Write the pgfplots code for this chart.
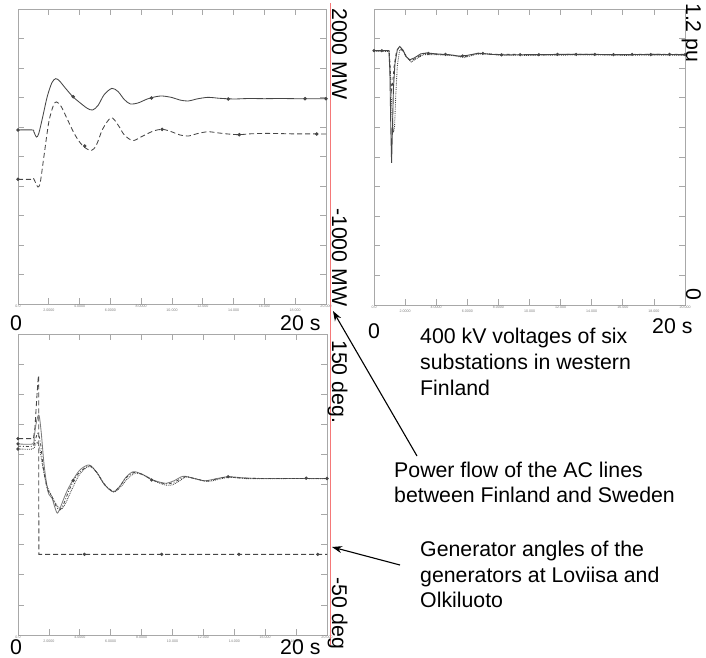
\documentclass[border=0pt]{standalone}
\usepackage{pgfplots}
\pgfplotsset{compat=1.18}
\usepackage{fontspec}
\setmainfont{Liberation Sans}
\usetikzlibrary{arrows.meta}
\definecolor{frame}{RGB}{168,168,168}
\definecolor{curve}{RGB}{70,70,70}
\definecolor{redline}{RGB}{245,120,120}
\newcommand{\bigf}{\fontsize{21.3}{25.5}\selectfont}
\pgfplotsset{
  panel/.style={
    scale only axis,
    anchor=south west,
    xmin=0, xmax=20,
    axis line style={frame, line width=0.9pt},
    tick style={frame, line width=0.8pt},
    major tick length=6pt,
    tick align=inside,
    xtick={0,4,8,12,16,20},
    xticklabels={0.0,4.0000,8.0000,12.000,16.000,20.000},
    extra x ticks={2,6,10,14,18},
    extra x tick labels={2.0000,6.0000,10.000,14.000,18.000},
    extra x tick style={xticklabel style={yshift=-4.5pt}},
    xticklabel style={font=\fontsize{3.6}{4}\selectfont, text=gray, inner sep=0.6pt},
    yticklabels={},
    every axis plot/.append style={line width=0.85pt},
  },
  longdash/.style={dash pattern=on 5pt off 3pt},
}
\begin{document}
\begin{tikzpicture}
\useasboundingbox (0pt,0pt) rectangle (706pt,-657pt);

% ---------------- Top left: power flow -----------------
\begin{axis}[panel, at={(18pt,-304pt)}, width=308pt, height=295pt,
  ymin=-1000, ymax=2000, ytick={-1000,-700,...,2000}]
\addplot[curve, smooth, tension=0.5] coordinates {
(0,770)(0.95,770)(1.02,755)(1.2,698)(1.35,735)(1.6,900)(1.9,1110)(2.2,1250)(2.45,1292)(2.7,1268)(3.0,1210)(3.55,1110)(4.0,1050)(4.5,990)(4.85,973)(5.2,1020)(5.6,1130)(6.1,1193)(6.5,1160)(6.9,1080)(7.3,1034)(7.8,1045)(8.4,1085)(9.0,1110)(9.4,1115)(10.0,1100)(10.5,1075)(11.05,1064)(11.6,1085)(12.35,1102)(13.0,1093)(14,1085)(15,1090)(16,1088)(17,1090)(18,1088)(19,1088)(20,1088)};
\addplot[curve, longdash, smooth, tension=0.5] coordinates {
(0,268)(0.9,268)(1.0,280)(1.15,230)(1.3,190)(1.45,240)(1.7,520)(2.0,850)(2.3,1020)(2.5,1055)(2.8,1010)(3.2,880)(3.7,720)(4.2,610)(4.75,560)(5.1,620)(5.5,780)(6.05,895)(6.5,820)(6.9,720)(7.45,662)(8.0,700)(8.8,760)(9.4,776)(10.0,750)(10.5,720)(11.05,708)(11.7,735)(12.35,752)(13.0,740)(13.7,728)(14.4,722)(15,730)(16,735)(17,733)(18,730)(19,730)(20,729)};
\addplot[only marks, mark=*, mark size=1.3pt, curve] coordinates {
(0,770)(3.58,1108)(8.67,1095)(13.65,1085)(18.64,1088)(20,1088)
(0,268)(4.33,607)(9.36,776)(14.37,722)(19.4,729)};
\end{axis}

% ---------------- Top right: voltages -----------------
\begin{axis}[panel, at={(374pt,-305pt)}, width=311pt, height=296pt,
  ymin=0, ymax=1.2, ytick={0,0.12,0.24,0.36,0.48,0.6,0.72,0.84,0.96,1.08,1.2}]
\addplot[curve, line width=0.9pt] coordinates {
(0,1.031)(0.96,1.031)(1.02,0.95)(1.08,0.72)(1.13,0.576)(1.18,0.70)(1.25,0.88)(1.35,0.98)(1.5,1.035)(1.65,1.048)(1.85,1.035)(2.05,1.008)(2.3,0.994)(2.6,1.002)(3.0,1.018)(3.4,1.022)(4.0,1.018)(4.8,1.015)(5.5,1.009)(6.0,1.012)(6.7,1.021)(7.5,1.016)(8.5,1.014)(10,1.015)(12,1.016)(14,1.016)(16,1.015)(18,1.016)(20,1.015)};
\addplot[curve, densely dotted] coordinates {
(0,1.028)(0.97,1.028)(1.05,0.93)(1.15,0.78)(1.25,0.70)(1.32,0.72)(1.4,0.85)(1.5,0.97)(1.65,1.035)(1.9,1.03)(2.15,1.0)(2.4,0.985)(2.7,0.998)(3.2,1.015)(4,1.015)(5,1.012)(5.8,1.003)(6.5,1.015)(7.2,1.02)(8,1.013)(10,1.012)(12,1.013)(14,1.014)(16,1.012)(18,1.013)(20,1.012)};
\addplot[curve, dashed] coordinates {
(0,1.032)(0.98,1.032)(1.05,0.95)(1.12,0.87)(1.2,0.9)(1.3,0.97)(1.45,1.03)(1.62,1.045)(1.85,1.03)(2.1,1.005)(2.35,0.99)(2.7,1.0)(3.2,1.02)(4,1.017)(5,1.013)(5.8,1.006)(6.7,1.02)(7.5,1.017)(9,1.016)(11,1.014)(13,1.017)(15,1.015)(17,1.016)(20,1.016)};
\addplot[only marks, mark=*, mark size=1.1pt, curve] coordinates {
(0,1.031)(0.5,1.031)(3.5,1.02)(4.6,1.016)(5.7,1.01)(7.0,1.02)(8.2,1.014)(9.4,1.015)(10.6,1.015)(11.8,1.016)(13.0,1.016)(14.2,1.016)(15.4,1.015)(16.6,1.016)(17.8,1.015)(19.0,1.016)(20,1.015)};
\end{axis}

% ---------------- Bottom left: generator angles -----------------
\begin{axis}[panel, at={(18pt,-635pt)}, width=309pt, height=301pt,
  ymin=-50, ymax=150, ytick={-50,-30,...,150}]
\addplot[curve, longdash] coordinates {
(0,80.5)(1.0,80.5)(1.1,88)(1.2,105)(1.3,120)(1.34,122.5)(1.35,3.6)(20,3.6)};
\addplot[curve!70, smooth, tension=0.5] coordinates {
(0,77)(0.95,77)(1.05,82)(1.2,92)(1.36,96)(1.5,85)(1.7,62)(1.95,45)(2.2,41)(2.38,35)(2.55,31)(2.75,35)(3.1,44)(3.5,52)(4.0,59.6)(4.6,63)(5.1,58)(5.6,50)(6.16,45.2)(6.6,49)(7.0,55)(7.46,58.5)(8.0,57)(8.6,53.5)(9.2,51.5)(9.6,50.8)(10.1,52.5)(10.7,55.5)(11.4,54)(12.1,52.5)(12.9,54)(13.6,55.2)(14.5,54.5)(15.5,54)(17,54)(18.5,54)(20,54)};
\addplot[curve, densely dotted, smooth, tension=0.5] coordinates {
(0,73.6)(0.95,73.6)(1.1,76)(1.25,78)(1.4,74)(1.6,62)(1.85,50)(2.1,44)(2.4,38)(2.65,34.5)(2.85,34)(3.1,38)(3.5,47)(4.0,57)(4.6,62)(5.1,58)(5.6,50)(6.2,45)(6.7,49)(7.1,54)(7.6,57.5)(8.2,56)(8.8,52.5)(9.4,50)(9.9,49.5)(10.4,52)(10.9,55)(11.6,53.5)(12.3,52)(13.0,53.5)(13.7,54.8)(14.6,54)(16,53.8)(18,54)(20,53.8)};
\addplot[curve, dash dot, smooth, tension=0.5] coordinates {
(0,75.5)(0.95,75.5)(1.1,79)(1.28,84)(1.45,78)(1.65,60)(1.9,47)(2.15,43)(2.45,36)(2.7,33)(2.95,37)(3.3,46)(3.8,56)(4.6,62.5)(5.1,58)(5.6,50)(6.18,45.5)(6.6,49)(7.0,54.5)(7.5,58)(8.1,56.5)(8.7,53)(9.3,51)(9.8,50.5)(10.3,52.5)(10.8,55.2)(11.5,53.8)(12.2,52.3)(12.9,53.8)(13.6,55)(14.5,54.3)(16,54)(18,54)(20,54)};
\addplot[only marks, mark=*, mark size=1.2pt, curve] coordinates {
(0,80.5)(0,77)(0,73.6)(3.57,52.6)(8.65,53)(13.6,55.2)(18.65,54.2)(20,54)
(4.3,3.6)(9.3,3.6)(14.3,3.6)(19.4,3.6)};
\end{axis}

% ---------------- red line and labels -----------------
\draw[redline, line width=0.6pt] (330pt,-3pt) -- (330pt,-645pt);

\begin{scope}[every node/.style={inner sep=0pt, font=\bigf}]
\node[anchor=base west] at (10pt,-330pt) {0};
\node[anchor=base west] at (280pt,-330pt) {20 s};
\node[anchor=base west] at (368pt,-338pt) {0};
\node[anchor=base west] at (652pt,-333pt) {20 s};
\node[anchor=base west] at (10pt,-654pt) {0};
\node[anchor=base west] at (280pt,-654pt) {20 s};

\node[anchor=base west, rotate=-90] at (332pt,-8pt) {2000 MW};
\node[anchor=base west, rotate=-90] at (332pt,-208pt) {-1000 MW};
\node[anchor=base west, rotate=-90] at (686pt,-3pt) {1.2 pu};
\node[anchor=base west, rotate=-90] at (686pt,-288pt) {0};
\node[anchor=base west, rotate=-90] at (332pt,-340pt) {150 deg.};
\node[anchor=base west, rotate=-90] at (332pt,-577pt) {-50 deg};

\node[anchor=base west] at (420pt,-343pt) {400 kV voltages of six};
\node[anchor=base west] at (420pt,-369pt) {substations in western};
\node[anchor=base west] at (420pt,-395pt) {Finland};

\node[anchor=base west] at (394pt,-477pt) {Power flow of the AC lines};
\node[anchor=base west] at (394pt,-502pt) {between Finland and Sweden};

\node[anchor=base west] at (420pt,-556pt) {Generator angles of the};
\node[anchor=base west] at (420pt,-582pt) {generators at Loviisa and};
\node[anchor=base west] at (420pt,-607pt) {Olkiluoto};
\end{scope}

\draw[line width=1.1pt, -{Stealth[length=10pt,width=7pt]}] (417pt,-456pt) -- (333pt,-311pt);
\draw[line width=1.1pt, -{Stealth[length=10pt,width=7pt]}] (400pt,-565pt) -- (332pt,-547pt);
\end{tikzpicture}
\end{document}
